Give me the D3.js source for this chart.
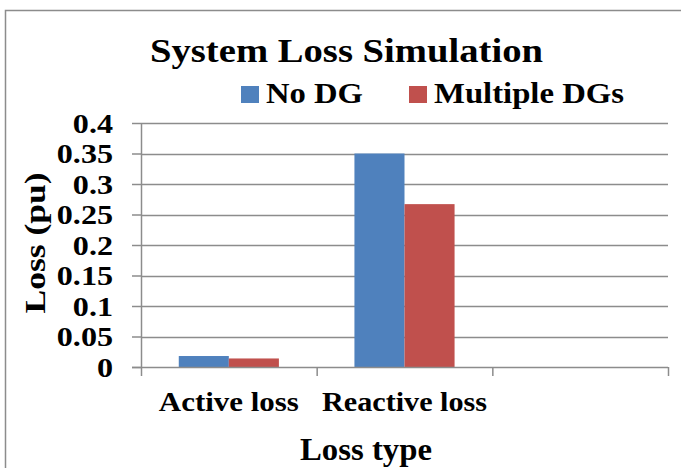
<!DOCTYPE html>
<html>
<head>
<meta charset="utf-8">
<script src="https://cdn.jsdelivr.net/npm/d3@7"></script>
<style>
  html, body { margin: 0; padding: 0; background: #fff; }
  svg text { font-family: "Liberation Serif", "Times New Roman", serif; font-weight: bold; fill: #000; }
</style>
</head>
<body>
<svg id="chart" width="681" height="468"></svg>
<script>
// Loss categories (third slot is an empty category on the axis)
const categories = ["Active loss", "Reactive loss", ""];
const categoryLabelWidths = [140, 165, 0];
const seriesNames = ["No DG", "Multiple DGs"];
const noDG = [0.018, 0.35, null];
const multipleDGs = [0.014, 0.267, null];
const yTicks = [0, 0.05, 0.1, 0.15, 0.2, 0.25, 0.3, 0.35, 0.4];
const colors = ["#4f81bd", "#c0504d"];

const svg = d3.select("#chart");
const W = 681, H = 468;
const plot = { left: 141, right: 668, top: 123, bottom: 367 };

// widen glyphs horizontally by a factor (the chart's lettering is set wide)
function widen(sel, factor) {
  sel.each(function () {
    const w = this.getComputedTextLength();
    if (w > 0) d3.select(this).attr("textLength", w * factor).attr("lengthAdjust", "spacingAndGlyphs");
  });
}

svg.append("rect").attr("width", W).attr("height", H).attr("fill", "#fff");
// chart frame
svg.append("rect")
  .attr("x", 5.5).attr("y", 10.5).attr("width", 700).attr("height", 500)
  .attr("fill", "none").attr("stroke", "#8c8c8c").attr("stroke-width", 1.5);

const x = d3.scaleBand().domain(d3.range(categories.length))
  .range([plot.left, plot.right]).paddingInner(0.43).paddingOuter(0.215);
const x1 = d3.scaleBand().domain(d3.range(seriesNames.length))
  .range([0, x.bandwidth()]);
const y = d3.scaleLinear().domain([0, 0.4]).range([plot.bottom, plot.top]);

// gridlines
svg.append("g").selectAll("line").data(yTicks.filter(t => t > 0)).join("line")
  .attr("x1", plot.left).attr("x2", plot.right)
  .attr("y1", d => Math.round(y(d)) + 0.5).attr("y2", d => Math.round(y(d)) + 0.5)
  .attr("stroke", "#8c8c8c").attr("stroke-width", 1.5);

// bars
const rows = categories.map((c, i) => ({ i, vals: [noDG[i], multipleDGs[i]] }));
const g = svg.append("g").selectAll("g").data(rows).join("g")
  .attr("transform", d => `translate(${x(d.i)},0)`);
g.selectAll("rect").data(d => d.vals.map((v, s) => ({ v, s })).filter(e => e.v != null))
  .join("rect")
  .attr("x", d => x1(d.s)).attr("width", x1.bandwidth())
  .attr("y", d => y(d.v)).attr("height", d => y(0) - y(d.v))
  .attr("fill", d => colors[d.s]);

// y axis
const yAxis = d3.axisLeft(y).tickValues(yTicks).tickSize(9).tickPadding(19)
  .tickFormat(d => d3.format("")(+d.toFixed(2)));
const ya = svg.append("g").attr("transform", `translate(${plot.left},0)`).call(yAxis);
ya.attr("font-family", null).attr("font-size", null);
ya.select(".domain").attr("stroke", "#8c8c8c").attr("stroke-width", 1.5)
  .attr("d", `M0.5,${plot.top}V${plot.bottom}`);
ya.selectAll(".tick line").attr("stroke", "#8c8c8c").attr("stroke-width", 1.5);
ya.selectAll(".tick text").style("font-size", "27px").attr("dy", "0.34em");
widen(ya.selectAll(".tick text"), 1.19);

// x axis with boundary ticks
const xa = svg.append("g").attr("transform", `translate(0,${plot.bottom})`);
xa.append("line").attr("x1", plot.left - 9).attr("x2", plot.right)
  .attr("y1", 0.5).attr("y2", 0.5).attr("stroke", "#8c8c8c").attr("stroke-width", 1.5);
const step = x.step();
xa.selectAll(".bt").data(d3.range(categories.length + 1)).join("line")
  .attr("class", "bt")
  .attr("x1", i => plot.left + i * step + 0.5).attr("x2", i => plot.left + i * step + 0.5)
  .attr("y1", 0).attr("y2", 9)
  .attr("stroke", "#8c8c8c").attr("stroke-width", 1.5);
xa.selectAll(".cl").data(categories.filter(c => c)).join("text")
  .attr("class", "cl")
  .attr("x", (d, i) => x(i) + x.bandwidth() / 2)
  .attr("y", 44).attr("text-anchor", "middle")
  .style("font-size", "28px").text(d => d)
  .attr("textLength", (d, i) => categoryLabelWidths[i]).attr("lengthAdjust", "spacingAndGlyphs");

// titles
svg.append("text").attr("x", 346.5).attr("y", 62).attr("text-anchor", "middle")
  .style("font-size", "34px").text("System Loss Simulation")
  .attr("textLength", 393).attr("lengthAdjust", "spacingAndGlyphs");
svg.append("text").attr("x", 366).attr("y", 460).attr("text-anchor", "middle")
  .style("font-size", "31px").text("Loss type")
  .attr("textLength", 132).attr("lengthAdjust", "spacingAndGlyphs");
svg.append("text").attr("transform", "translate(45,243) rotate(-90)")
  .attr("text-anchor", "middle").style("font-size", "30px").text("Loss (pu)")
  .attr("textLength", 141).attr("lengthAdjust", "spacingAndGlyphs");

// legend
const legendX = [241, 409];
const legendW = [97, 190];
const lg = svg.append("g").selectAll("g").data(seriesNames).join("g")
  .attr("transform", (d, i) => `translate(${legendX[i]},0)`);
lg.append("rect").attr("x", 0).attr("y", 86).attr("width", 18).attr("height", 17)
  .attr("fill", (d, i) => colors[i]);
lg.append("text").attr("x", 25).attr("y", 103).style("font-size", "29px").text(d => d)
  .attr("textLength", (d, i) => legendW[i]).attr("lengthAdjust", "spacingAndGlyphs");
</script>
</body>
</html>
